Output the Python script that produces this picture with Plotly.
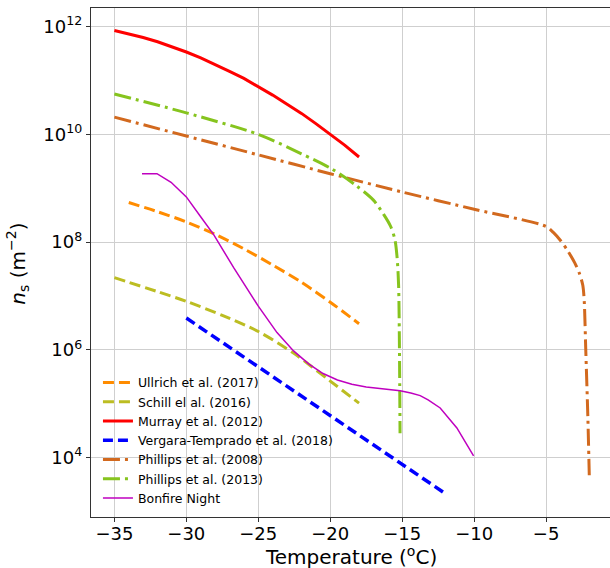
import numpy as np
import plotly.graph_objects as go

# ---- data (temperature in degC, log10 of n_s in m^-2) ----
ullrich_T = [-34, -32, -30, -28, -26, -24, -22, -20, -18]
ullrich_log = [8.735, 8.565, 8.375, 8.145, 7.875, 7.575, 7.255, 6.885, 6.485]

schill_T = [-35, -32, -30, -27.5, -25, -22.5, -20, -18]
schill_log = [7.34, 7.08, 6.90, 6.64, 6.34, 5.93, 5.42, 5.01]

murray_T = [-35, -34, -33, -32, -31, -30, -29, -28, -27, -26, -25, -24, -23, -22, -21, -20, -19, -18]
murray_log = [11.93, 11.87, 11.80, 11.72, 11.63, 11.53, 11.42, 11.30, 11.17, 11.04, 10.89,
              10.73, 10.56, 10.39, 10.20, 10.00, 9.80, 9.58]

vergara_T = [-30, -12]
vergara_log = [6.59, 3.33]

phillips08_T = [-35, -30, -25, -20, -15, -10, -5, -4.5, -4, -3.5, -3, -2.7, -2.45, -2.35, -2.25, -2.1, -2.0]
phillips08_log = [10.32, 9.97, 9.62, 9.27, 8.93, 8.61, 8.29, 8.18, 8.03, 7.84, 7.61, 7.43, 7.2,
                  6.9, 6.05, 4.76, 3.67]

phillips13_T = [-35, -30, -25, -22, -19.9, -18.2, -17, -16.3, -15.8, -15.5, -15.35, -15.25, -15.2, -15.15]
phillips13_log = [10.75, 10.40, 10.0, 9.64, 9.36, 9.05, 8.78, 8.52, 8.29, 8.04, 7.7, 7.2, 6.3, 4.45]

bonfire_T = [-33.08, -32.04, -31.06, -30, -29.03, -28.1, -26.7, -25, -23.7, -22.55, -21.5,
             -20.5, -19.5, -18.5, -17.5, -16.5, -15.14, -14.4, -13.75, -13.2, -12.36, -11.2, -10.04]
bonfire_log = [9.27, 9.27, 9.11, 8.84, 8.48, 8.14, 7.52, 6.81, 6.32, 5.98, 5.74,
               5.56, 5.44, 5.36, 5.31, 5.28, 5.24, 5.2, 5.15, 5.07, 4.92, 4.55, 4.03]

x_tick_vals = [-35, -30, -25, -20, -15, -10, -5]
x_tick_text = ["\u221235", "\u221230", "\u221225", "\u221220", "\u221215", "\u221210", "\u22125"]
y_tick_exps = [4, 6, 8, 10, 12]

FONT = "DejaVu Sans"

def ns(v):
    return np.power(10.0, np.array(v, dtype=float))

series = [
    ("Ullrich et al. (2017)", ullrich_T, ullrich_log, dict(color="#ff8c00", width=3, dash="11px,5px"), "spline"),
    ("Schill el al. (2016)", schill_T, schill_log, dict(color="#bcbd22", width=3, dash="11px,5px"), "spline"),
    ("Murray et al. (2012)", murray_T, murray_log, dict(color="#ff0000", width=3), "linear"),
    ("Vergara-Temprado et al. (2018)", vergara_T, vergara_log, dict(color="#0000ff", width=3.5, dash="10px,5px"), "linear"),
    ("Phillips et al. (2008)", phillips08_T, phillips08_log, dict(color="#d2691e", width=3, dash="17px,5px,3px,5px"), "spline"),
    ("Phillips et al. (2013)", phillips13_T, phillips13_log, dict(color="#86c41e", width=3, dash="17px,5px,3px,5px"), "spline"),
    ("Bonfire Night", bonfire_T, bonfire_log, dict(color="#bf00bf", width=1.5), "linear"),
]

fig = go.Figure()
for name, T, lg, line, shape in series:
    ln = dict(line)
    ln["shape"] = shape
    if shape == "spline":
        ln["smoothing"] = 0.8
    fig.add_trace(go.Scatter(x=T, y=ns(lg), mode="lines", name=name, line=ln))

fig.update_layout(
    width=610, height=568,
    margin=dict(l=91, r=0, t=8, b=51),
    plot_bgcolor="white", paper_bgcolor="white",
    font=dict(family=FONT, color="black"),
    showlegend=True,
    legend=dict(x=0.0134, y=0.293, xanchor="left", yanchor="top",
                bgcolor="rgba(255,255,255,0)", font=dict(size=12.5, family=FONT),
                tracegroupgap=0),
    annotations=[
        dict(text="Temperature (<sup>o</sup>C)", xref="paper", yref="paper",
             x=0.5, y=-0.076, xanchor="center", yanchor="middle", showarrow=False,
             font=dict(size=20, family=FONT, color="black")),
        dict(text="<i>n</i><sub>s</sub> (m<sup>\u22122</sup>)", xref="paper", yref="paper",
             x=-0.1407, y=0.4977, xanchor="center", yanchor="middle", showarrow=False,
             textangle=-90, font=dict(size=20, family=FONT, color="black")),
    ],
)

fig.update_xaxes(
    range=[-36.625, -0.56], automargin=False,
    tickmode="array", tickvals=x_tick_vals, ticktext=x_tick_text,
    tickfont=dict(size=18, family=FONT), ticklabelstandoff=-4,
    showgrid=True, gridcolor="#cfcfcf", gridwidth=1,
    zeroline=False,
    showline=True, linecolor="#333333", linewidth=1.3, mirror=True,
    ticks="outside", ticklen=4, tickcolor="#333333",
)

fig.update_yaxes(
    type="log", range=[2.896, 12.347], automargin=False,
    tickmode="array", tickvals=[10.0 ** e for e in y_tick_exps],
    ticktext=["10<sup>%d</sup>" % e for e in y_tick_exps],
    tickfont=dict(size=18, family=FONT),
    showgrid=True, gridcolor="#cfcfcf", gridwidth=1,
    zeroline=False,
    showline=True, linecolor="#333333", linewidth=1.3, mirror=False,
    ticks="outside", ticklen=4, tickcolor="#333333",
)

fig.write_html(
    "out.html",
    config={"displayModeBar": False},
    post_script="document.body.style.margin='0';document.body.style.overflow='hidden';",
)
